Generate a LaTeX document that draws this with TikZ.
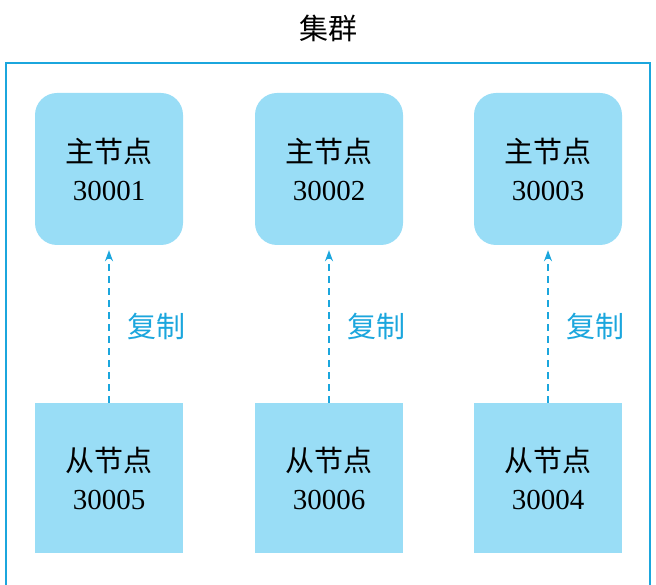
\documentclass[tikz,border=0pt]{standalone}
\usepackage{fontspec}
\setmainfont{Liberation Serif}
\newfontfamily\cjk{Noto Sans CJK SC}
\usetikzlibrary{arrows.meta}
\definecolor{boxfill}{HTML}{99DDF6}
\definecolor{lineblue}{HTML}{1BA6DD}
\begin{document}
\begin{tikzpicture}[x=1pt,y=-1pt,
  master/.style={fill=boxfill, rounded corners=22pt, minimum width=148pt, minimum height=152pt, align=center, font=\fontsize{29}{38}\selectfont},
  slave/.style={fill=boxfill, minimum width=148pt, minimum height=150pt, align=center, font=\fontsize{29}{38}\selectfont},
  repl/.style={-{Stealth[length=11pt,width=8pt]}, lineblue, line width=2.6pt, dash pattern=on 7pt off 5pt}]
\useasboundingbox (0,0) rectangle (656,585);
\draw [lineblue, line width=2.2pt] (6,63) rectangle (650,590);
\node (title) at (328,28) {\fontsize{29}{32}\selectfont\cjk 集群};

\node (m1) [master] at (109,169) {{\cjk 主节点}\\30001};
\node (m2) [master] at (329,169) {{\cjk 主节点}\\30002};
\node (m3) [master] at (548,169) {{\cjk 主节点}\\30003};

\node (s1) [slave] at (109,478) {{\cjk 从节点}\\30005};
\node (s2) [slave] at (329,478) {{\cjk 从节点}\\30006};
\node (s3) [slave] at (548,478) {{\cjk 从节点}\\30004};

\draw [repl] (s1.north) -- ([yshift=-5pt]m1.south) node [midway, right=14pt, font=\fontsize{29}{32}\selectfont\cjk] {复制};
\draw [repl] (s2.north) -- ([yshift=-5pt]m2.south) node [midway, right=14pt, font=\fontsize{29}{32}\selectfont\cjk] {复制};
\draw [repl] (s3.north) -- ([yshift=-5pt]m3.south) node [midway, right=14pt, font=\fontsize{29}{32}\selectfont\cjk] {复制};
\end{tikzpicture}
\end{document}
